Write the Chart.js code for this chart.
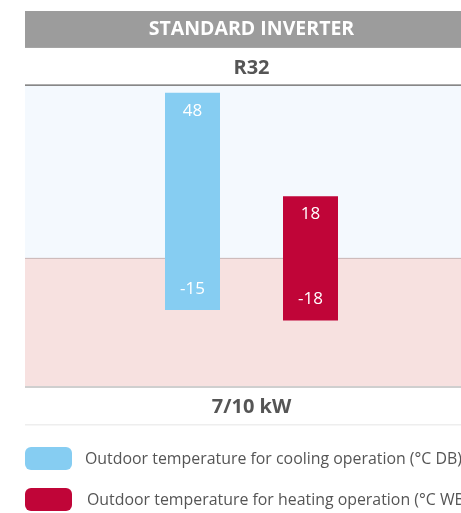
<!DOCTYPE html>
<html><head><meta charset="utf-8">
<script src="https://cdn.jsdelivr.net/npm/chart.js@4"></script>
<style>
html,body{margin:0;padding:0;overflow:hidden;background:#fff;width:461px;height:513px}
#wrap{position:relative;width:480px;height:513px}
canvas{display:block}
</style>
</head><body><div id="wrap"><canvas id="c" width="480" height="513"></canvas></div>
<script>
// ---- data ----
const categories = ['7/10 kW'];
const seriesNames = ['Outdoor temperature for cooling operation (°C DB)', 'Outdoor temperature for heating operation (°C WB)'];
const coolingRange = [-15, 48];
const heatingRange = [-18, 18];
const headerTitle = 'STANDARD INVERTER';
const refrigerant = 'R32';
const seriesColors = ['#86CDF2', '#C00538'];

const FONT = "'Open Sans', 'Noto Sans', sans-serif";

const bandPlugin = {
  id: 'bands',
  beforeDraw(chart) {
    const ctx = chart.ctx, ca = chart.chartArea, y = chart.scales.y;
    const tb = chart.titleBlock;
    const W = chart.width;
    ctx.save();
    ctx.fillStyle = '#9C9C9C';
    ctx.fillRect(tb.left, tb.top, W - tb.left, tb.bottom - tb.top);
    const y0 = y.getPixelForValue(0);
    ctx.fillStyle = '#F4F9FE';
    ctx.fillRect(ca.left, ca.top, W - ca.left, y0 - ca.top);
    ctx.fillStyle = '#F7E1E0';
    ctx.fillRect(ca.left, y0, W - ca.left, ca.bottom - y0);
    ctx.fillStyle = '#7A7A7A';
    ctx.fillRect(ca.left, ca.top - 1.5, W - ca.left, 1.5);
    ctx.fillStyle = '#C9B6B6';
    ctx.fillRect(ca.left, y0 - 0.5, W - ca.left, 1);
    ctx.fillStyle = '#CFCFCF';
    ctx.fillRect(ca.left, ca.bottom, W - ca.left, 2);
    ctx.fillStyle = '#EEEEEE';
    ctx.fillRect(ca.left, chart.height - 89, W - ca.left, 1.5);
    ctx.restore();
  }
};

const labelPlugin = {
  id: 'barLabels',
  afterDatasetsDraw(chart) {
    const ctx = chart.ctx;
    ctx.save();
    ctx.fillStyle = '#FFFFFF';
    ctx.font = '17px ' + FONT;
    ctx.textAlign = 'center';
    ctx.textBaseline = 'middle';
    chart.data.datasets.forEach((ds, i) => {
      const meta = chart.getDatasetMeta(i);
      meta.data.forEach((bar, j) => {
        const v = ds.data[j];
        const top = Math.min(bar.y, bar.base), bottom = Math.max(bar.y, bar.base);
        ctx.fillText(String(Math.max(v[0], v[1])), bar.x, top + 18);
        ctx.fillText(String(Math.min(v[0], v[1])), bar.x, bottom - 21);
      });
    });
    ctx.restore();
  }
};

const legendPlugin = {
  id: 'customLegend',
  afterDraw(chart) {
    const ctx = chart.ctx;
    const startY = chart.height - 66;
    ctx.save();
    chart.data.datasets.forEach((ds, i) => {
      const y = startY + i * 41;
      ctx.fillStyle = ds.backgroundColor;
      ctx.beginPath();
      ctx.roundRect(25, y, 47, 23, 6);
      ctx.fill();
      ctx.fillStyle = '#555555';
      ctx.font = '15.9px ' + FONT;
      ctx.textAlign = 'left';
      ctx.textBaseline = 'middle';
      ctx.fillText(ds.label, 85 + i * 2, y + 12);
    });
    ctx.restore();
  }
};

new Chart(document.getElementById('c'), {
  type: 'bar',
  data: {
    labels: categories,
    datasets: [
      { label: seriesNames[0], data: [coolingRange], backgroundColor: seriesColors[0] },
      { label: seriesNames[1], data: [heatingRange], backgroundColor: seriesColors[1] }
    ]
  },
  options: {
    responsive: false,
    animation: false,
    events: [],
    layout: { padding: { top: 11, left: 25, right: 2, bottom: 85 } },
    datasets: { bar: { categoryPercentage: 0.521, barPercentage: 0.466, borderWidth: 0 } },
    plugins: {
      legend: { display: false },
      tooltip: { enabled: false },
      title: {
        display: true, text: headerTitle, color: '#FFFFFF',
        font: { family: FONT, size: 19.5, weight: 'bold' },
        padding: { top: 7, bottom: 6.5 }
      },
      subtitle: {
        display: true, text: refrigerant, color: '#555555',
        font: { family: FONT, size: 20, weight: 'bold' },
        padding: { top: 8, bottom: 6 }
      }
    },
    scales: {
      x: {
        grid: { display: false, drawTicks: false },
        border: { display: false },
        ticks: { color: '#555555', padding: 9, font: { family: FONT, size: 20, weight: 'bold' } }
      },
      y: { display: false, min: -37, max: 50 }
    }
  },
  plugins: [bandPlugin, labelPlugin, legendPlugin]
});
</script>
</body></html>
